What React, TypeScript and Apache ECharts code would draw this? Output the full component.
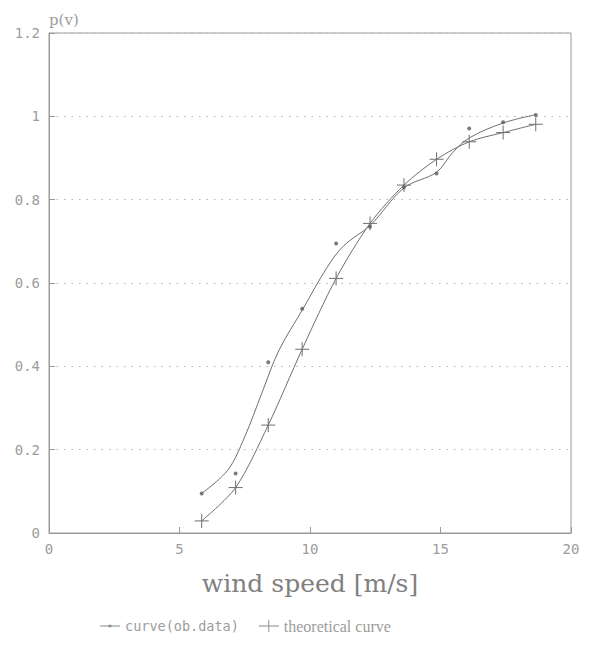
import React, { useEffect, useRef } from "react";
import * as echarts from "echarts";

// observed data points
const windSpeed = [5.85, 7.15, 8.4, 9.7, 11.0, 12.3, 13.6, 14.85, 16.1, 17.4, 18.65];
const obsPoints = [0.095, 0.143, 0.41, 0.538, 0.695, 0.735, 0.83, 0.863, 0.971, 0.986, 1.003];
// theoretical curve (marked with +)
const theoretical = [0.029, 0.109, 0.259, 0.441, 0.611, 0.743, 0.835, 0.897, 0.939, 0.961, 0.981];
const obsFitSpeed = [5.85, 6.85, 7.5, 8.15, 8.8, 9.75, 10.65, 11.3, 12.3, 13.6, 14.85, 15.45, 16.1, 17.4, 18.65];
const obsFitP = [0.095, 0.151, 0.231, 0.335, 0.437, 0.54, 0.637, 0.69, 0.738, 0.828, 0.866, 0.912, 0.948, 0.984, 1.004];
const xTicks = { min: 0, max: 20, interval: 5 };
const yTicks = { min: 0, max: 1.2, interval: 0.2 };

const pair = (xs: number[], ys: number[]) => xs.map((x, i) => [x, ys[i]]);

const PLUS = "path://M0,7L14,7M7,0L7,14";
const ICON_DOT = "path://M0,6.5L9.5,6.5L9.5,5.5L12.5,5.5L12.5,6.5L22,6.5L22,7.5L12.5,7.5L12.5,8.5L9.5,8.5L9.5,7.5L0,7.5Z";
const ICON_PLUS = "path://M0,6.5L22,6.5L22,7.5L0,7.5Z M10.5,0L11.5,0L11.5,14L10.5,14Z";
const LINE = "#6f6f6f";
const AXIS = "#9a9a9a";
const TEXT = "#9c9c9c";
const MONO = "'DejaVu Sans Mono', 'Liberation Mono', monospace";
const SERIF = "'Liberation Serif', 'DejaVu Serif', serif";
const WSERIF = "'DejaVu Serif', 'Liberation Serif', serif";

export default function App() {
  const ref = useRef<HTMLDivElement>(null);
  useEffect(() => {
    document.body.style.margin = "0";
    const chart = echarts.init(ref.current!, null, { renderer: "svg" });
    chart.setOption({
      animation: false,
      backgroundColor: "#ffffff",
      grid: {
        left: 49,
        top: 33,
        width: 522,
        height: 500,
        show: true,
        borderColor: AXIS,
        borderWidth: 1,
        backgroundColor: "transparent",
      },
      legend: {
        left: 95,
        top: 613,
        itemWidth: 20,
        itemHeight: 14,
        itemGap: 20,
        data: [
          { name: "curve(ob.data)", icon: ICON_DOT, itemStyle: { color: "#8a8a8a", borderWidth: 0 } },
          { name: "theoretical curve", icon: ICON_PLUS, itemStyle: { color: "#8a8a8a", borderWidth: 0 } },
        ],
        formatter: (name: string) => (name === "curve(ob.data)" ? `{a|${name}}` : `{b|${name}}`),
        textStyle: {
          color: TEXT,
          fontFamily: SERIF,
          fontSize: 14,
          rich: {
            a: { color: TEXT, fontFamily: MONO, fontSize: 13.5 },
            b: { color: TEXT, fontFamily: SERIF, fontSize: 16 },
          },
        },
      },
      xAxis: {
        type: "value",
        min: xTicks.min,
        max: xTicks.max,
        interval: xTicks.interval,
        name: "wind speed [m/s]",
        nameLocation: "middle",
        nameGap: 38,
        nameTextStyle: { color: "#808080", fontFamily: WSERIF, fontSize: 25 },
        axisLine: { lineStyle: { color: AXIS } },
        axisTick: { inside: true, length: 6, lineStyle: { color: AXIS } },
        axisLabel: { color: TEXT, fontFamily: MONO, fontSize: 14, margin: 9 },
        splitLine: { show: false },
      },
      yAxis: {
        type: "value",
        min: yTicks.min,
        max: yTicks.max,
        interval: yTicks.interval,
        name: "p(v)",
        nameLocation: "end",
        nameGap: 6,
        nameTextStyle: { color: TEXT, fontFamily: WSERIF, fontSize: 15, align: "left" },
        axisLine: { lineStyle: { color: AXIS } },
        axisTick: { inside: true, length: 6, lineStyle: { color: AXIS } },
        axisLabel: { color: TEXT, fontFamily: MONO, fontSize: 14, margin: 9 },
        splitLine: { show: true, lineStyle: { color: "#b5b5b5", type: [1.5, 6], width: 1 } },
      },
      series: [
        {
          name: "curve(ob.data)",
          type: "line",
          smooth: 0.35,
          data: pair(obsFitSpeed, obsFitP),
          showSymbol: false,
          symbol: "none",
          lineStyle: { color: LINE, width: 1 },
          itemStyle: { color: LINE },
          z: 3,
        },
        {
          name: "ob.data",
          type: "scatter",
          data: pair(windSpeed, obsPoints),
          symbol: "circle",
          symbolSize: 4,
          itemStyle: { color: "#5a5a5a" },
          z: 4,
        },
        {
          name: "theoretical curve",
          type: "line",
          smooth: 0.3,
          data: pair(windSpeed, theoretical),
          symbol: PLUS,
          symbolSize: 14,
          showSymbol: true,
          lineStyle: { color: LINE, width: 1 },
          itemStyle: { color: "none", borderColor: LINE, borderWidth: 1 },
          z: 3,
        },
      ],
    });
    return () => chart.dispose();
  }, []);
  return <div ref={ref} style={{ width: 590, height: 652 }} />;
}
